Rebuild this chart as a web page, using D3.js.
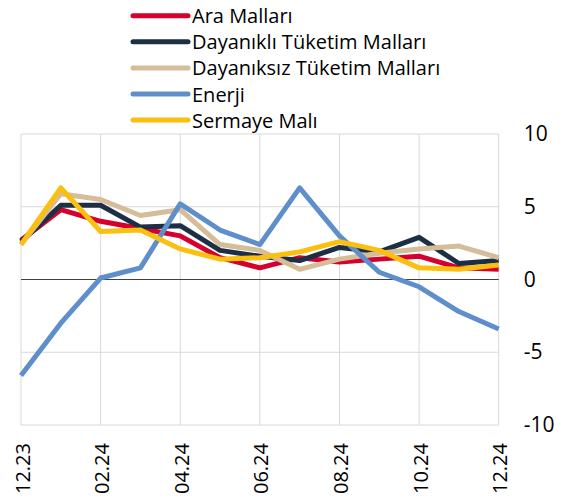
<!DOCTYPE html>
<html>
  <head>
    <meta http-equiv="Content-Type" content="text/html;charset=utf-8"/>
    <title>Chart</title>
    <script src="https://d3js.org/d3.v7.min.js"></script>
    <style>
      body { margin: 0; background: #fff; }
      text { font-family: "Open Sans", "Noto Sans", sans-serif; fill: #000; }
    </style>
  </head>
  <body>
    <div id="content"></div>
    <script type="text/javascript">

      // months, 12.23 .. 12.24
      const months = ['12.23','01.24','02.24','03.24','04.24','05.24','06.24','07.24','08.24','09.24','10.24','11.24','12.24']
      const yTicks = [10, 5, 0, -5, -10]

      const araMallari = [2.7, 4.8, 4.0, 3.5, 3.0, 1.5, 0.8, 1.5, 1.2, 1.4, 1.6, 0.8, 0.7]
      const dayanikli = [2.6, 5.1, 5.1, 3.6, 3.7, 2.0, 1.6, 1.3, 2.2, 1.9, 2.9, 1.1, 1.3]
      const dayaniksiz = [2.4, 5.9, 5.5, 4.4, 4.8, 2.4, 2.0, 0.7, 1.4, 1.8, 2.1, 2.3, 1.5]
      const enerji = [-6.6, -3.0, 0.1, 0.8, 5.2, 3.4, 2.4, 6.3, 3.0, 0.5, -0.5, -2.2, -3.4]
      const sermaye = [2.4, 6.3, 3.3, 3.4, 2.1, 1.4, 1.5, 1.9, 2.6, 2.0, 0.8, 0.7, 1.0]

      const seriesNames = ['Ara Malları', 'Dayanıklı Tüketim Malları', 'Dayanıksız Tüketim Malları', 'Enerji', 'Sermaye Malı']
      const seriesValues = [araMallari, dayanikli, dayaniksiz, enerji, sermaye]
      const colors = ['#d6002d', '#1c2f45', '#d4bd98', '#5f8fcb', '#fbbf10']

      const width = 569, height = 503
      const plotLeft = 21, plotRight = 498.7, plotTop = 134, plotBottom = 425

      const svg = d3.select('#content').append('svg').attr('width', width).attr('height', height)

      const xScale = d3.scalePoint()
        .domain(months)
        .range([plotLeft, plotRight])

      const yScale = d3.scaleLinear()
        .domain([-10, 10])
        .range([plotBottom, plotTop])

      // gridlines
      const grid = svg.append('g')
      grid.selectAll('line.h')
        .data(yTicks.filter(d => d !== 0))
        .enter().append('line')
        .attr('class', 'h')
        .attr('x1', plotLeft).attr('x2', plotRight)
        .attr('y1', d => yScale(d)).attr('y2', d => yScale(d))
        .attr('stroke', '#d9d9d9').attr('stroke-width', 1)

      grid.selectAll('line.v')
        .data(months.filter((d, i) => i % 2 === 0))
        .enter().append('line')
        .attr('class', 'v')
        .attr('x1', d => xScale(d)).attr('x2', d => xScale(d))
        .attr('y1', plotTop).attr('y2', plotBottom)
        .attr('stroke', '#d9d9d9').attr('stroke-width', 1)

      // zero line
      svg.append('line')
        .attr('x1', plotLeft).attr('x2', plotRight)
        .attr('y1', yScale(0)).attr('y2', yScale(0))
        .attr('stroke', '#404040').attr('stroke-width', 1)

      // right axis labels
      const yAxis = d3.axisRight(yScale).tickValues(yTicks).tickSize(0).tickPadding(25)
      const yg = svg.append('g')
        .attr('transform', 'translate(' + plotRight + ',0)')
        .call(yAxis)
      yg.select('.domain').remove()
      yg.selectAll('text')
        .style('font-size', '21px')
        .attr('fill', '#000')
        .text(d => d < 0 ? '-' + Math.abs(d) : d)

      // bottom labels, rotated
      const xg = svg.append('g')
      xg.selectAll('text')
        .data(months.filter((d, i) => i % 2 === 0))
        .enter().append('text')
        .attr('transform', d => 'translate(' + (xScale(d) + 1) + ',' + (plotBottom + 18) + ') rotate(-90)')
        .attr('text-anchor', 'end')
        .attr('dominant-baseline', 'central')
        .style('font-size', '20px')
        .text(d => d)

      // lines
      const line = d3.line()
        .x((d, i) => xScale(months[i]))
        .y(d => yScale(d))

      svg.selectAll('path.series')
        .data(seriesValues)
        .enter().append('path')
        .attr('class', 'series')
        .attr('d', d => line(d))
        .attr('fill', 'none')
        .attr('stroke', (d, i) => colors[i])
        .attr('stroke-width', 5)
        .attr('stroke-linejoin', 'round')

      // legend
      const legend = svg.append('g')
      const rows = legend.selectAll('g')
        .data(seriesNames)
        .enter().append('g')
        .attr('transform', (d, i) => 'translate(133,' + (15.7 + i * 26.1) + ')')
      rows.append('line')
        .attr('x1', 0).attr('x2', 55)
        .attr('stroke', (d, i) => colors[i])
        .attr('stroke-width', 5)
        .attr('stroke-linecap', 'round')
      rows.append('text')
        .attr('x', 59)
        .attr('dominant-baseline', 'central')
        .style('font-size', '20px')
        .text(d => d)

    </script>
  </body>
</html>
